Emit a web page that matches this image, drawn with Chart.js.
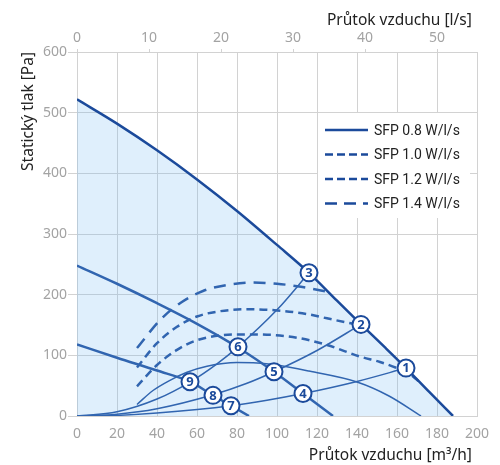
<!DOCTYPE html>
<html>
<head>
<meta charset="utf-8">
<script src="https://cdn.jsdelivr.net/npm/chart.js@4/dist/chart.umd.min.js"></script>
<style>
  html, body { margin: 0; padding: 0; background: #fff; }
  #wrap { width: 500px; height: 465px; }
</style>
</head>
<body>
<div id="wrap"><canvas id="chart"></canvas></div>
<script>
// ---- data (flow m3/h, pressure Pa) ----
const maxFlow = [0, 20, 40, 60, 80, 100, 116, 130, 142, 154, 164.5, 176, 188];
const maxPressure = [522, 482, 438, 390, 338, 282, 236, 190, 151, 113, 79, 40, 0];

const midFlow = [0, 20, 40, 60, 80.5, 98.5, 113, 128];
const midPressure = [248, 218, 186, 152, 113, 73, 37, 0];

const lowFlow = [0, 20, 40, 56.5, 68, 77, 86];
const lowPressure = [118, 96, 75, 56.5, 34, 17, 0];

const sys3Flow = [0, 20, 40, 56.5, 70, 80.5, 100, 116];
const sys3Pressure = [0, 7, 28, 56, 86, 114, 175, 236];
const sys2Flow = [0, 20, 40, 68, 85, 98.5, 120, 142];
const sys2Pressure = [0, 3, 12, 35, 54, 73, 108, 151];
const sys1Flow = [0, 20, 40, 77, 95, 113, 140, 164.5];
const sys1Pressure = [0, 1, 5, 17, 26, 37, 57, 79];

const sfp08Flow = [30, 38, 46, 55, 65, 80, 90, 100, 116, 140, 156, 172];
const sfp08Pressure = [19, 42, 58, 72, 82, 88, 87.5, 84, 74, 56, 33, 0];
const sfp10Flow = [30, 40, 50, 60, 80, 95, 110, 125, 141.5, 151.5, 160, 166, 172];
const sfp10Pressure = [49, 84, 109, 125, 134.5, 134, 129, 117, 98, 89, 79, 70, 54];
const sfp12Flow = [30, 40, 50, 60, 70, 85, 100, 115, 125, 135, 142];
const sfp12Pressure = [80, 120, 147, 164, 172, 176, 174, 168, 161, 154, 150];
const sfp14Flow = [30, 41.5, 51.5, 63, 75, 88, 100, 112, 125];
const sfp14Pressure = [112, 158, 186, 206, 216, 220, 218, 213, 205];

const pointNames = ["1", "2", "3", "4", "5", "6", "7", "8", "9"];
const pointFlow = [164.5, 142, 116, 113, 98.5, 80.5, 77, 68, 56.5];
const pointPressure = [79, 151, 236, 37, 73, 114, 17, 34, 56.5];

const legendNames = ["SFP 0.8 W/l/s", "SFP 1.0 W/l/s", "SFP 1.2 W/l/s", "SFP 1.4 W/l/s"];

// thin spaces keep the right-aligned titles a few px off the plot edge, as in the original
const xTitle = "Průtok vzduchu [m³/h]\u2009\u2009";
const xTopTitle = "Průtok vzduchu [l/s]\u2009\u2009";
const yTitle = "Statický tlak [Pa]";

const BLUE = "#1b4a9b";
const GRID = "#d2d2d2";
const TICK = "#a3a3a3";

const pts = (xs, ys) => xs.map((x, i) => ({ x, y: ys[i] }));

function line(xs, ys, width, dash) {
  return {
    data: pts(xs, ys),
    borderColor: BLUE,
    borderWidth: width,
    borderDash: dash || [],
    pointRadius: 0,
    fill: false,
    cubicInterpolationMode: "monotone",
  };
}

const legendStyles = [
  { dash: [] },
  { dash: [8, 4] },
  { dash: [8, 4] },
  { dash: [12, 7] },
];

// white legend box with lines + names, drawn over the grid
const legendBox = {
  id: "legendBox",
  beforeDatasetsDraw(chart) {
    const ctx = chart.ctx;
    ctx.save();
    ctx.fillStyle = "#fff";
    ctx.fillRect(318, 113, 152, 105);
    legendNames.forEach((name, i) => {
      const y = 130 + i * 24.5;
      ctx.strokeStyle = BLUE;
      ctx.lineWidth = 2.5;
      ctx.setLineDash(legendStyles[i].dash);
      ctx.beginPath();
      ctx.moveTo(325, y);
      ctx.lineTo(368, y);
      ctx.stroke();
      ctx.setLineDash([]);
      ctx.fillStyle = "#222";
      ctx.font = "14px Roboto";
      ctx.textBaseline = "middle";
      ctx.fillText(name, 374, y + 1);
    });
    ctx.restore();
  },
  afterDatasetsDraw(chart) {
    // numbers in the operating point circles
    const idx = chart.data.datasets.findIndex(d => d.isMarkers);
    const meta = chart.getDatasetMeta(idx);
    const ctx = chart.ctx;
    ctx.save();
    ctx.fillStyle = BLUE;
    ctx.font = "bold 13px 'Noto Sans'";
    ctx.textAlign = "center";
    ctx.textBaseline = "middle";
    meta.data.forEach((el, i) => ctx.fillText(pointNames[i], el.x, el.y + 0.5));
    ctx.restore();
  },
};

const maxCurve = line(maxFlow, maxPressure, 2.5);
maxCurve.fill = "origin";
maxCurve.backgroundColor = "rgba(120, 190, 242, 0.24)";

const markers = {
  isMarkers: true,
  type: "scatter",
  data: pts(pointFlow, pointPressure),
  pointRadius: 8.5,
  pointBorderWidth: 2,
  pointBackgroundColor: "#fff",
  pointBorderColor: BLUE,
  order: -1,
};

const titleFont = { family: "Noto Sans", size: 15.5, lineHeight: 1.2 };
const tickFont = { family: "Noto Sans", size: 14 };

new Chart(document.getElementById("chart"), {
  type: "line",
  data: {
    datasets: [
      maxCurve,
      line(midFlow, midPressure, 2.5),
      line(lowFlow, lowPressure, 2.5),
      line(sys3Flow, sys3Pressure, 1.5),
      line(sys2Flow, sys2Pressure, 1.5),
      line(sys1Flow, sys1Pressure, 1.5),
      line(sfp08Flow, sfp08Pressure, 1.5),
      line(sfp10Flow, sfp10Pressure, 2.5, [8, 5]),
      line(sfp12Flow, sfp12Pressure, 2.5, [8, 5]),
      line(sfp14Flow, sfp14Pressure, 2.5, [12, 8]),
      markers,
    ],
  },
  options: {
    responsive: true,
    maintainAspectRatio: false,
    animation: false,
    layout: { padding: { left: 0, right: 23, top: 0, bottom: 0 } },
    plugins: { legend: { display: false }, tooltip: { enabled: false } },
    scales: {
      x: {
        type: "linear",
        position: "bottom",
        min: 0, max: 200,
        afterFit: s => { s.height = 49; },
        grid: { color: GRID, drawTicks: false },
        border: { color: GRID },
        ticks: { stepSize: 20, color: TICK, padding: 10, font: tickFont },
        title: { display: true, text: xTitle, align: "end", color: "#222", font: titleFont, padding: { top: 0, bottom: 0 } },
      },
      xTop: {
        type: "linear",
        position: "top",
        min: 0, max: 200 / 3.6,
        afterFit: s => { s.height = 52; },
        grid: { color: GRID, drawOnChartArea: false, tickLength: 3 },
        border: { color: GRID },
        ticks: { stepSize: 10, includeBounds: false, color: TICK, padding: 3, font: tickFont },
        title: { display: true, text: xTopTitle, align: "end", color: "#222", font: titleFont, padding: { top: 11, bottom: 0 } },
      },
      y: {
        min: 0, max: 600,
        afterFit: s => { s.width = 77; },
        grid: { color: GRID, tickLength: 9 },
        border: { color: GRID },
        ticks: { stepSize: 100, color: TICK, padding: 1, font: tickFont },
        title: { display: true, text: yTitle, align: "end", color: "#222", font: titleFont, padding: { top: 19, bottom: 0 } },
      },
    },
  },
  plugins: [legendBox],
});
</script>
</body>
</html>
